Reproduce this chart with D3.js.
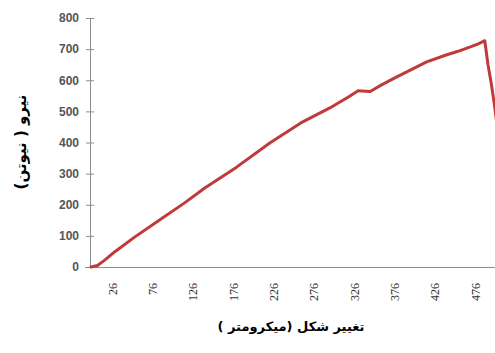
<!DOCTYPE html>
<html>
<head>
<meta charset="utf-8">
<script src="https://cdn.jsdelivr.net/npm/d3@7"></script>
<style>
  html, body { margin: 0; padding: 0; background: #fff; }
  svg { display: block; }
</style>
</head>
<body>
<svg id="chart" width="495" height="353"></svg>
<script>
// Load–displacement curve: displacement (micrometres) vs. force (newtons)
const displacement = [0, 8, 17, 30, 54, 80, 116, 141, 180, 222, 260, 296, 320, 331, 346, 360, 379, 400, 416, 441, 455, 470, 480, 488, 492, 496, 500, 503];
const force        = [0, 5, 22, 50, 96, 142, 206, 254, 320, 399, 463, 511, 548, 566, 564, 585, 611, 638, 659, 682, 693, 707, 717, 727, 650, 590, 520, 460];
const xTickLabels  = [26, 76, 126, 176, 226, 276, 326, 376, 426, 476];
const yTickLabels  = [0, 100, 200, 300, 400, 500, 600, 700, 800];

const xTitle = "تغییر شکل (میکرومتر )";
const yTitle = "نیرو ( نیوتن)";

const svg = d3.select("#chart");

const x = d3.scaleLinear().domain([0, 505]).range([91, 498.5]);
const y = d3.scaleLinear().domain([0, 800]).range([267, 18]);

// y axis
const yAxis = svg.append("g")
  .attr("transform", `translate(${x(0) - 1},0)`)
  .call(d3.axisLeft(y).tickValues(yTickLabels).tickSize(4).tickPadding(7).tickSizeOuter(0));
yAxis.select(".domain").attr("stroke", "#8c8c8c");
yAxis.selectAll(".tick line").attr("stroke", "#8c8c8c").attr("x2", 4).attr("x1", -4);
yAxis.selectAll(".tick text")
  .attr("x", -11)
  .attr("font-family", "Liberation Sans, Arial, sans-serif")
  .attr("font-size", 12)
  .attr("font-weight", "bold")
  .attr("fill", "#555");

// x axis (labels only, no tick marks)
const xAxis = svg.append("g")
  .attr("transform", `translate(0,${y(0)})`)
  .call(d3.axisBottom(x).tickValues(xTickLabels).tickSize(0).tickSizeOuter(0));
xAxis.select(".domain").attr("stroke", "#8c8c8c").attr("d", `M${x(0) - 6},0.5H495`);
xAxis.selectAll(".tick text")
  .attr("transform", "rotate(-90)")
  .attr("x", -16)
  .attr("y", 0)
  .attr("dy", "0.35em")
  .attr("text-anchor", "end")
  .attr("font-family", "Liberation Serif, Times New Roman, serif")
  .attr("font-size", 12)
  .attr("fill", "#333");

// curve
const line = d3.line()
  .x((d, i) => x(displacement[i]))
  .y(d => y(d));

svg.append("path")
  .datum(force)
  .attr("d", line)
  .attr("fill", "none")
  .attr("stroke", "#c0393b")
  .attr("stroke-width", 3)
  .attr("stroke-linejoin", "round")
  .attr("stroke-linecap", "round");

// axis titles
svg.append("text")
  .attr("x", 291).attr("y", 331)
  .attr("text-anchor", "middle")
  .attr("direction", "rtl")
  .attr("font-family", "DejaVu Sans, Noto Sans, sans-serif")
  .attr("font-size", 13)
  .attr("font-weight", "bold")
  .attr("fill", "#000")
  .text(xTitle);

svg.append("text")
  .attr("transform", "translate(26,142) rotate(-90)")
  .attr("text-anchor", "middle")
  .attr("direction", "rtl")
  .attr("font-family", "DejaVu Sans, Noto Sans, sans-serif")
  .attr("font-size", 15)
  .attr("font-weight", "bold")
  .attr("fill", "#000")
  .text(yTitle);
</script>
</body>
</html>
